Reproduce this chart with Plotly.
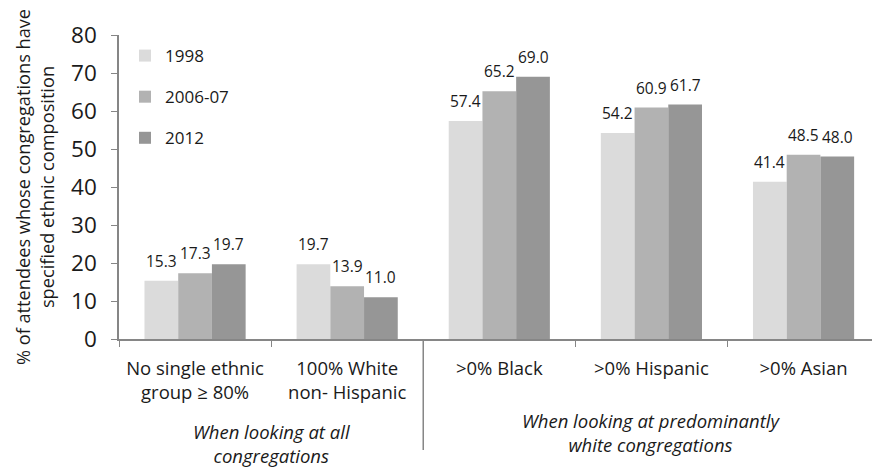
import plotly.graph_objects as go

categories = ["No single ethnic<br>group ≥ 80%", "100% White<br>non- Hispanic",
              ">0% Black", ">0% Hispanic", ">0% Asian"]
series_names = ["1998", "2006-07", "2012"]
values_1998 = [15.3, 19.7, 57.4, 54.2, 41.4]
values_2006 = [17.3, 13.9, 65.2, 60.9, 48.5]
values_2012 = [19.7, 11.0, 69.0, 61.7, 48.0]
colors = ["#DBDBDB", "#B2B2B2", "#969696"]
group_labels = ["<i>When looking at all<br>congregations</i>",
                "<i>When looking at predominantly<br>white congregations</i>"]
y_ticks = [0, 10, 20, 30, 40, 50, 60, 70, 80]

FONT = "Open Sans"
TXT = "#1a1a1a"
BARGAP = 0.335
fig = go.Figure()
all_vals = [values_1998, values_2006, values_2012]
for i, (name, vals) in enumerate(zip(series_names, all_vals)):
    fig.add_trace(go.Bar(
        x=categories, y=vals, name=name, marker_color=colors[i],
        marker_line_width=0, legendgroup=name,
    ))

# data labels above each bar
bar_w = (1 - BARGAP) / 3
for i, vals in enumerate(all_vals):
    for j, v in enumerate(vals):
        fig.add_annotation(x=j + (i - 1) * bar_w, xref="x", y=v, yref="y",
                           text=f"{v:.1f}", showarrow=False, yanchor="middle",
                           yshift=20, font=dict(size=15.5, family=FONT, color=TXT))

fig.update_layout(
    width=872, height=472,
    margin=dict(l=119, r=0, t=35, b=133),
    paper_bgcolor="white", plot_bgcolor="white",
    barmode="group", bargap=BARGAP, bargroupgap=0,
    font=dict(family=FONT, color=TXT),
    showlegend=True,
    legend=dict(x=0.008, y=0.99, xanchor="left", yanchor="top",
                font=dict(size=17, family=FONT), tracegroupgap=16,
                bgcolor="rgba(0,0,0,0)", itemwidth=30),
    xaxis=dict(range=[-0.5, 4.45], showline=True, linecolor="#868686", linewidth=1.5,
               ticks="outside", tickson="boundaries", ticklen=6, tickcolor="#868686",
               tickfont=dict(size=18.5, family=FONT), showgrid=False, fixedrange=True,
               ticklabelstandoff=12),
    yaxis=dict(range=[0, 80], tickvals=y_ticks, showline=True, linecolor="#868686",
               linewidth=1.5, ticks="outside", ticklen=6, tickcolor="#868686",
               tickfont=dict(size=22.5, family=FONT), showgrid=False, zeroline=False,
               ticklabelstandoff=10,
               title=dict(text="% of attendees whose congregations have<br>specified ethnic composition",
                          font=dict(size=18.2, family=FONT), standoff=12)),
)

# long separator between the two groups
fig.add_shape(type="line", xref="x", yref="paper", x0=1.5, x1=1.5, y0=0, y1=-0.365,
              line=dict(color="#868686", width=1.5))

fig.add_annotation(x=0.5, xref="x", y=-0.257, yref="paper", yanchor="top",
                   text=group_labels[0], showarrow=False,
                   font=dict(size=18.5, family=FONT, color=TXT))
fig.add_annotation(x=3, xref="x", y=-0.22, yref="paper", yanchor="top",
                   text=group_labels[1], showarrow=False,
                   font=dict(size=18.5, family=FONT, color=TXT))

fig.write_html("out.html")
